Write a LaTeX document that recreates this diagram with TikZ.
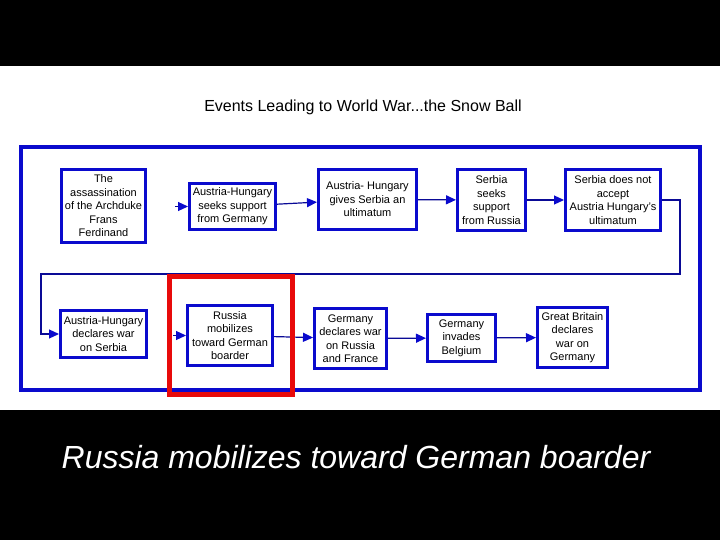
\documentclass[tikz,border=0pt]{standalone}
\usepackage{fontspec}
\setmainfont{Liberation Sans}
\usetikzlibrary{arrows.meta}
\definecolor{boxblue}{RGB}{10,10,205}
\definecolor{linkblue}{RGB}{10,10,150}
\definecolor{markred}{RGB}{232,10,10}

\begin{document}
\begin{tikzpicture}[x=1pt, y=-1pt,
		event/.style={draw=boxblue, line width=3pt, fill=white, rectangle, align=center, inner sep=0pt, font=\fontsize{11}{13.5}\selectfont},
		link/.style={draw=linkblue, line width=1.2pt, -{Triangle[length=10pt,width=9pt,color=boxblue]}}]
			\fill[black] (0,0) rectangle (720,540);
			\fill[white] (0,66) rectangle (720,410);
			\useasboundingbox (0,0) rectangle (720,540);
			\node[anchor=base, font=\fontsize{16}{19}\selectfont] (title) at (363,112) {Events Leading to World War...the Snow Ball};
			\node[anchor=base, text=white, font=\fontsize{32}{38}\selectfont\itshape] (caption) at (356,468) {Russia mobilizes toward German boarder};
			\draw[boxblue, line width=4pt] (20.5,147.5) rectangle (700,390);
			\node[event, minimum width=84pt, minimum height=73pt] (B1) at (103.5,206) {The\\assassination\\of the Archduke\\Frans\\Ferdinand};
			\node[event, minimum width=86pt, minimum height=46pt] (B2) at (232.5,206.5) {Austria-Hungary\\seeks support\\from Germany};
			\node[event, minimum width=98pt, minimum height=60pt] (B3) at (367.5,199.5) {Austria- Hungary\\gives Serbia an\\ultimatum};
			\node[event, minimum width=68pt, minimum height=61pt] (B4) at (491.5,200) {Serbia\\seeks\\support\\from Russia};
			\node[event, minimum width=95pt, minimum height=61pt] (B5) at (613,200) {Serbia does not\\accept\\Austria Hungary's\\ultimatum};
			\node[event, minimum width=86pt, minimum height=47pt] (B6) at (103.5,334) {Austria-Hungary\\declares war\\on Serbia};
			\node[event, minimum width=85pt, minimum height=60pt] (B7) at (230,335.5) {Russia\\mobilizes\\toward German\\boarder};
			\node[event, minimum width=72pt, minimum height=60pt] (B8) at (350.5,338.5) {Germany\\declares war\\on Russia\\and France};
			\node[event, minimum width=68pt, minimum height=47pt] (B9) at (461.5,338) {Germany\\invades\\Belgium};
			\node[event, minimum width=70pt, minimum height=60pt] (B10) at (572.5,337.5) {Great Britain\\declares\\war on\\Germany};
			\coordinate (inA) at (175,206.5);
			\coordinate (inB) at (173,335.5);
			\coordinate (NE) at (680,274);
			\coordinate (SW) at (41,274);
			\draw[link] (inA) -- (B2.west);
			\draw[link] (B2) -- (B3);
			\draw[link] (B3) -- (B4);
			\draw[link] (B4) -- (B5);
			\draw[link] (B5.east) -| (NE) -- (SW) |- (B6.west);
			\draw[link] (inB) -- (B7.west);
			\draw[link] (B7) -- (B8);
			\draw[link] (B8) -- (B9);
			\draw[link] (B9) -- (B10);
			\node[draw=markred, line width=5pt, minimum width=123pt, minimum height=118pt, inner sep=0pt] (mark) at (231,335.5) {};
		\end{tikzpicture}
\end{document}
